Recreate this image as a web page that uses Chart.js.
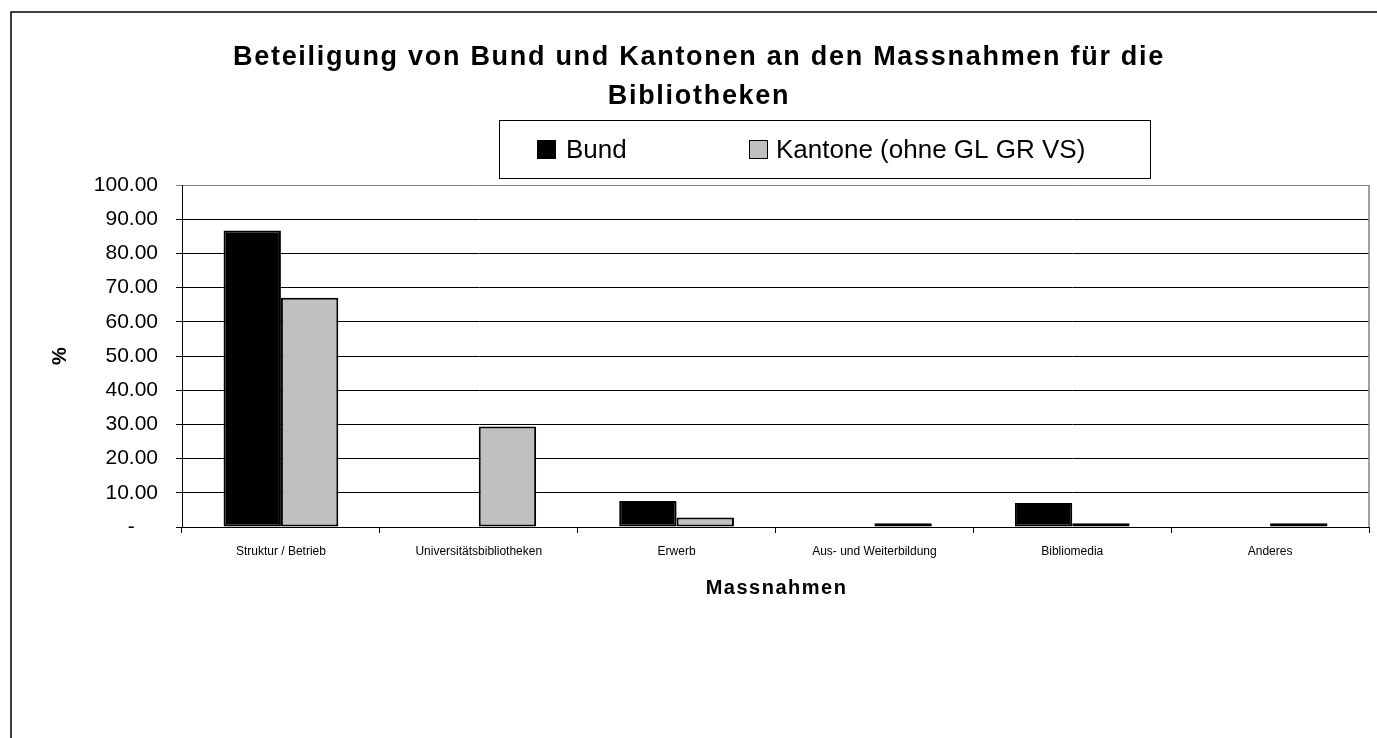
<!DOCTYPE html>
<html>
<head>
<meta charset="utf-8">
<script src="https://cdn.jsdelivr.net/npm/chart.js"></script>
<style>
  html, body { margin: 0; padding: 0; background: #fff; }
  canvas { display: block; }
</style>
</head>
<body>
<canvas id="massnahmenChart" width="1377" height="738"></canvas>
<script>
// Massnahmen (x-axis categories)
const categories = [
  "Struktur / Betrieb",
  "Universitätsbibliotheken",
  "Erwerb",
  "Aus- und Weiterbildung",
  "Bibliomedia",
  "Anderes"
];

// Share in % per series
const bund = [86.7, 0, 7.6, 0, 7.0, 0];
const kantone = [67.0, 29.4, 2.8, 1.1, 1.1, 1.1];

const titleLines = [
  "Beteiligung von Bund und Kantonen an den Massnahmen für die",
  "Bibliotheken"
];
const xTitle = "Massnahmen";

const FONT = "'Liberation Sans', Arial, sans-serif";

// draws frame, title, boxed legend, x title and the grey right border of the plot
const decorations = {
  id: 'decorations',
  afterDraw(chart) {
    const ctx = chart.ctx;
    const area = chart.chartArea;
    ctx.save();

    // outer frame (cut off at right / bottom)
    ctx.strokeStyle = '#000';
    ctx.lineWidth = 1.5;
    ctx.beginPath();
    ctx.moveTo(11, 800);
    ctx.lineTo(11, 12);
    ctx.lineTo(1400, 12);
    ctx.stroke();

    // plot area right border
    ctx.strokeStyle = '#808080';
    ctx.lineWidth = 1.5;
    ctx.beginPath();
    ctx.moveTo(area.right, area.top);
    ctx.lineTo(area.right, area.bottom);
    ctx.stroke();

    // title
    ctx.fillStyle = '#000';
    ctx.textAlign = 'center';
    ctx.textBaseline = 'middle';
    ctx.font = 'bold 27px ' + FONT;
    const w = ctx.measureText(titleLines[0]).width;
    ctx.letterSpacing = Math.max(0, (932 - w) / titleLines[0].length) + 'px';
    ctx.fillText(titleLines[0], 699, 58);
    ctx.fillText(titleLines[1], 699, 97);

    // x axis title
    ctx.font = 'bold 20px ' + FONT;
    ctx.letterSpacing = '1.5px';
    ctx.fillText(xTitle, (area.left + area.right) / 2 + 1, 588);
    ctx.letterSpacing = '0px';

    // legend box
    ctx.strokeStyle = '#000';
    ctx.lineWidth = 1;
    ctx.strokeRect(499.5, 120.5, 651, 58);
    const items = [
      { x: 537, textX: 566 },
      { x: 749, textX: 776 }
    ];
    ctx.font = '26px ' + FONT;
    ctx.textAlign = 'left';
    chart.data.datasets.forEach((ds, i) => {
      const it = items[i];
      ctx.fillStyle = ds.backgroundColor;
      ctx.fillRect(it.x, 140, 19, 19);
      ctx.strokeStyle = '#000';
      ctx.lineWidth = 1;
      ctx.strokeRect(it.x + 0.5, 140.5, 18, 18);
      ctx.fillStyle = '#000';
      ctx.fillText(ds.label, it.textX, 151);
    });

    ctx.restore();
  }
};

const ctx = document.getElementById('massnahmenChart').getContext('2d');
const massnahmenChart = new Chart(ctx, {
  type: 'bar',
  data: {
    labels: categories,
    datasets: [
      {
        label: 'Bund',
        data: bund,
        backgroundColor: '#000000',
        borderColor: '#000000',
        borderWidth: 2,
        borderSkipped: false
      },
      {
        label: 'Kantone (ohne GL GR VS)',
        data: kantone,
        backgroundColor: '#c0c0c0',
        borderColor: '#000000',
        borderWidth: 2,
        borderSkipped: false
      }
    ]
  },
  options: {
    responsive: false,
    animation: false,
    layout: {
      padding: { top: 185, left: 0, right: 8, bottom: 138 }
    },
    datasets: {
      bar: { categoryPercentage: 0.58, barPercentage: 1.0 }
    },
    plugins: {
      legend: { display: false },
      title: { display: false },
      tooltip: { enabled: false }
    },
    scales: {
      x: {
        afterFit: (scale) => { scale.height = 73; },
        grid: {
          offset: true,
          drawOnChartArea: false,
          drawTicks: true,
          tickLength: 6,
          color: '#000'
        },
        border: { display: true, color: '#000', width: 1 },
        ticks: {
          color: '#000',
          padding: 11,
          maxRotation: 0,
          autoSkip: false,
          font: { family: FONT, size: 12 }
        }
      },
      y: {
        min: 0,
        max: 100,
        afterFit: (scale) => { scale.width = 182; },
        grid: {
          color: (c) => (c.tick && c.tick.value === 100 ? '#808080' : '#000'),
          lineWidth: 1,
          drawTicks: true,
          tickLength: 6
        },
        border: { display: true, color: '#000', width: 1 },
        ticks: {
          stepSize: 10,
          color: '#000',
          padding: 18,
          font: { family: FONT, size: 21 },
          callback: (v) => (v === 0 ? '-    ' : v.toFixed(2))
        },
        title: {
          display: true,
          text: '%',
          color: '#000',
          padding: { top: 48, bottom: 0 },
          font: { family: FONT, size: 20, weight: 'bold', lineHeight: 1.2 }
        }
      }
    }
  },
  plugins: [decorations]
});
</script>
</body>
</html>
